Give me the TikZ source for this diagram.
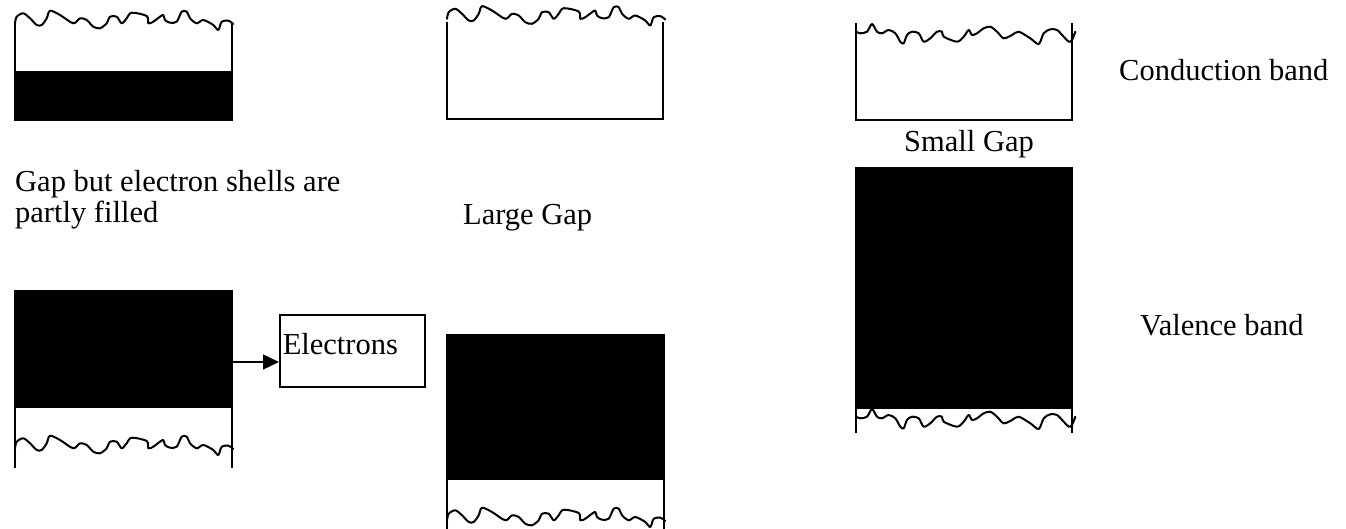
\documentclass[tikz,border=0pt]{standalone}
\usepackage{fontspec}
\setmainfont{Liberation Serif}
\usetikzlibrary{arrows.meta}
\tikzset{
 wave/.style={line width=2pt, line join=round, line cap=round},
 side/.style={line width=1.4pt},
 band/.style={fill=black, draw=none, inner sep=0pt, anchor=north west, minimum width=217pt},
 lbl/.style={font=\fontsize{30.5}{31}\selectfont, inner sep=0pt, anchor=base west},
}
\newcommand\drawwaveA[2]{\draw[wave,shift={(#1,#2)}] plot[smooth,tension=0.5] coordinates {(0,23.3) (1.7,16.7) (8.3,13.3) (15,18.3) (21.7,25) (26.7,25) (31.7,18.3) (35,10.7) (45,15) (58.3,23.3) (65,18.3) (71.7,20) (78.3,26.7) (85,28.3) (91.7,23.3) (95,16.7) (101.7,16.7) (106.7,23.3) (111.7,18.3) (116.7,12.7) (131.7,16) (133.3,23.3) (138.3,21.7) (145,16.7) (148.3,15) (150,20) (155,22.7) (161.7,21.7) (166.7,11.7) (171.7,11.7) (175,18.3) (181.7,23.3) (188.3,20) (198.3,25) (203.3,30) (206.7,21.7) (213.3,20.7) (218.3,24)};}
\newcommand\drawwaveB[2]{\draw[wave,shift={(#1,#2)}] plot[smooth,tension=0.5] coordinates {(0,31.7) (4.3,33.3) (11,31.7) (16,24) (21,31.7) (26,33.3) (32.7,30) (39.3,33.3) (44.3,41.7) (47.7,43.3) (51,35) (56,31.7) (62.7,33.3) (67.7,41.7) (74.3,38.3) (81,31.7) (86,31.7) (87.7,36.7) (101,41.7) (107.7,36.7) (112.7,30) (116,35) (121,33.3) (127.7,28.3) (134.3,26.7) (141,31.7) (147.7,38.3) (156,35) (162.7,31.7) (174.3,38.3) (182.7,44) (187.7,33.3) (194.3,29.3) (201,30) (207.7,36.7) (212.7,41.7) (216,40) (219.3,31.7)};}
\begin{document}
\begin{tikzpicture}[x=1pt,y=-1pt]
\useasboundingbox (0,0) rectangle (1346,529);
% box 1 : partly filled
\node[band, minimum height=49pt] (b1) at (15,71) {};
\draw[side] (15,23) -- (15,120) -- (232,120) -- (232,23);
\drawwaveA{15}{0}
% box 2 : lower left
\node[band, minimum height=118pt] (b2) at (15,290) {};
\draw[side] (15,290) -- (15,468);
\draw[side] (232,290) -- (232,468);
\drawwaveA{15}{425}
% electrons
\node[draw, line width=1.5pt, anchor=north west, minimum width=145pt, minimum height=72pt,
      inner xsep=3pt, inner ysep=9pt, text width=139pt, align=left, text height=31pt, text depth=23pt,
      font=\fontsize{30.5}{31}\selectfont] (el) at (279,314) {Electrons};
\coordinate (ar) at (232,362);
\draw[line width=1.2pt, -{Triangle[length=16pt,width=15pt]}] (ar) -- (ar -| el.west);
% box 3 : large gap top
\draw[side] (447,22) -- (447,119) -- (663,119) -- (663,22);
\drawwaveA{447}{-4.5}
% box 4 : large gap bottom
\node[band, minimum height=146pt] (b4) at (447,334) {};
\draw[side] (447,334) -- (447,529);
\draw[side] (664,334) -- (664,529);
\drawwaveA{447}{497}
% box 5 : conduction band
\draw[side] (856,23) -- (856,120) -- (1072,120) -- (1072,23);
\drawwaveB{856}{0}
% box 6 : valence band
\node[band, minimum width=216pt, minimum height=242pt] (b6) at (856,167) {};
\draw[side] (856,167) -- (856,433);
\draw[side] (1072,167) -- (1072,433);
\drawwaveB{856}{385}
% labels
\node[lbl] (t1) at (15,192) {Gap but electron shells are};
\node[lbl] (t2) at (15,223) {partly filled};
\node[lbl] (t3) at (463,225) {Large Gap};
\node[lbl] (t4) at (904,152) {Small Gap};
\node[lbl] (t5) at (1119,81) {Conduction band};
\node[lbl] (t6) at (1140,335) {Valence band};
\end{tikzpicture}
\end{document}
